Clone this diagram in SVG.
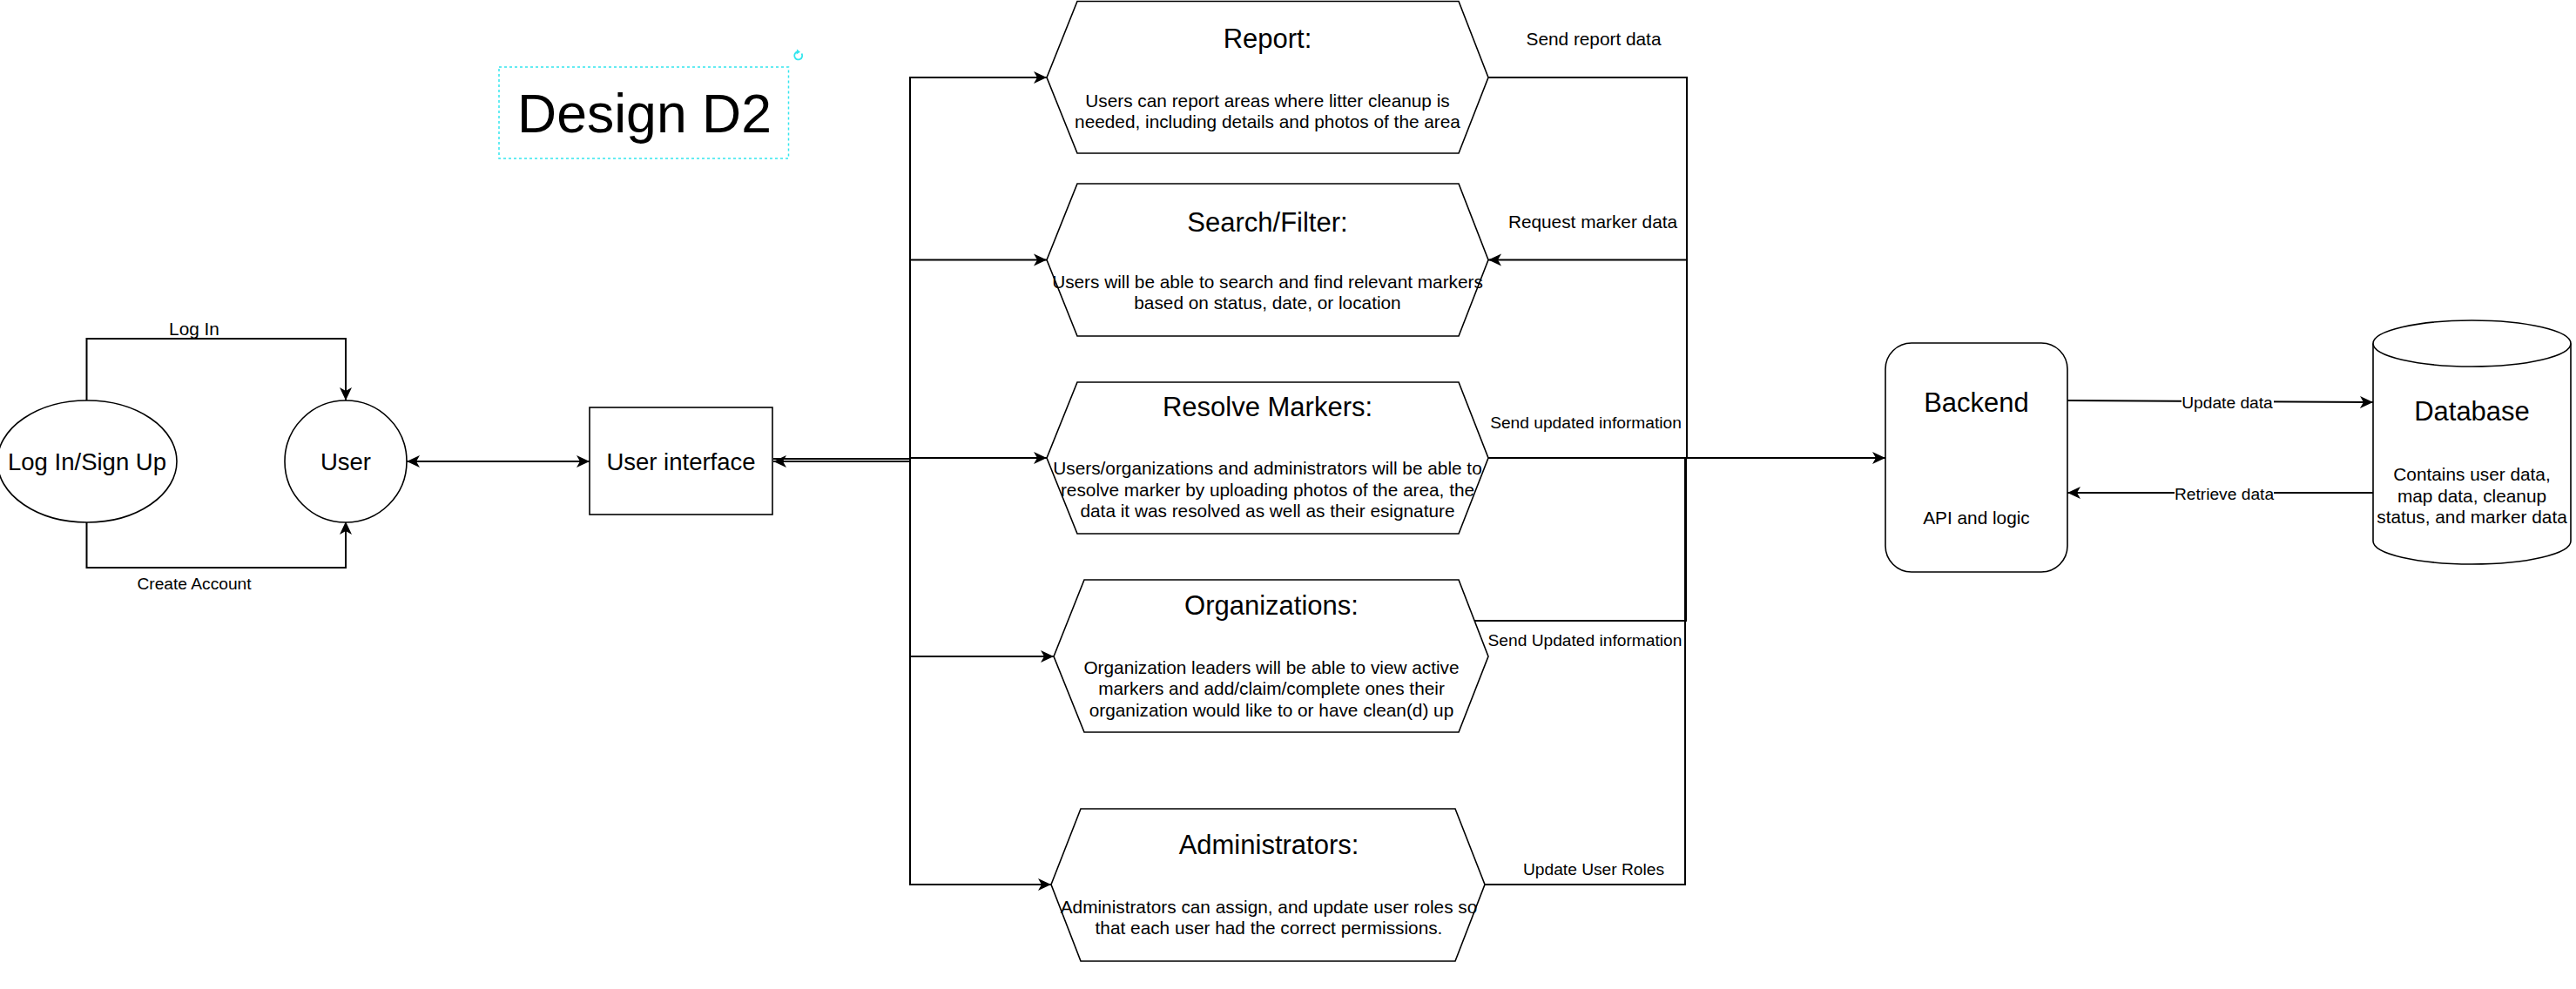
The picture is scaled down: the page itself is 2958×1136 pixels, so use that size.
<svg xmlns="http://www.w3.org/2000/svg" width="2958" height="1136" viewBox="0 0 2958 1136">
<defs>
<marker id="arr" markerUnits="userSpaceOnUse" markerWidth="16" markerHeight="16" viewBox="0 0 16 14" refX="15" refY="7" orient="auto-start-reverse">
<path d="M0,0 L15,7 L0,14 L4,7 Z" fill="#000"/>
</marker>
<style>
text{font-family:"Liberation Sans",Arial,Helvetica,sans-serif;fill:#000;text-anchor:middle}
.shape{fill:#fff;stroke:#000;stroke-width:1.6}
.edge{fill:none;stroke:#000;stroke-width:2}
.t27{font-size:27.5px}
.t31{font-size:31px}
.t21{font-size:20.8px}
.t19{font-size:19.2px}
</style>
</defs>
<rect width="2958" height="1136" fill="#fff"/>

<g id="title">
<rect x="573" y="77" width="332.5" height="105" fill="none" stroke="#33e6ee" stroke-width="1.5" stroke-dasharray="3 3"/>
<text x="740" y="152" style="font-size:62.5px">Design D2</text>
<path d="M920.5,61.5 A4.5,4.5 0 1 1 916,59.5" fill="none" stroke="#33e6ee" stroke-width="1.8"/>
<path d="M915,56.5 L919,59.8 L914.5,62.5 Z" fill="#33e6ee"/>
</g>

<g id="connectors">
<path class="edge" d="M99.5,460 L99.5,389 L397,389 L397,460" marker-end="url(#arr)"/>
<path class="edge" d="M99.5,599 L99.5,652 L397,652 L397,599" marker-end="url(#arr)"/>
<path class="edge" d="M467,530 L677,530" marker-start="url(#arr)" marker-end="url(#arr)"/>
<path class="edge" d="M1045,527 L888,527" stroke-width="1.6"/>
<path class="edge" d="M1045,530 L888,530" marker-end="url(#arr)"/>
<path class="edge" d="M1045,530 L1045,89 L1202,89" marker-end="url(#arr)"/>
<path class="edge" d="M1045,530 L1045,298.5 L1202,298.5" marker-end="url(#arr)"/>
<path class="edge" d="M1045,526 L1202,526" stroke-width="1.6" marker-end="url(#arr)"/>
<path class="edge" d="M1045,530 L1045,754 L1210,754" marker-end="url(#arr)"/>
<path class="edge" d="M1045,754 L1045,1016 L1207,1016" marker-end="url(#arr)"/>
<path class="edge" d="M1709,89 L1937,89 L1937,526 L2165,526" marker-end="url(#arr)"/>
<path class="edge" d="M1709,526 L2165,526"/>
<path class="edge" d="M1693,713 L1936,713 L1936,526"/>
<path class="edge" d="M1705,1016 L1935,1016 L1935,526"/>
<path class="edge" d="M1937,526 L1937,298.5 L1709,298.5" marker-end="url(#arr)"/>
<path class="edge" d="M2374,460 L2725,462" marker-end="url(#arr)"/>
<path class="edge" d="M2725,566 L2374,566" marker-end="url(#arr)"/>
<rect x="2505" y="448" width="106" height="26" fill="#fff"/>
<rect x="2497" y="552" width="114" height="26" fill="#fff"/>
<text class="t21" x="223" y="385">Log In</text>
<text class="t19" x="223" y="677">Create Account</text>
<text class="t19" x="2557.5" y="469">Update data</text>
<text class="t19" x="2554" y="574">Retrieve data</text>
<text class="t21" x="1830" y="52">Send report data</text>
<text class="t21" x="1829" y="262">Request marker data</text>
<text class="t19" x="1821" y="492">Send updated information</text>
<text class="t19" x="1820" y="742">Send Updated information</text>
<text class="t19" x="1830" y="1005">Update User Roles</text>
</g>

<g id="login">
<ellipse class="shape" cx="100" cy="530" rx="103" ry="70"/>
<text class="t27" x="100" y="540">Log In/Sign Up</text>
</g>

<g id="user">
<ellipse class="shape" cx="397" cy="530" rx="70" ry="70"/>
<text class="t27" x="397" y="540">User</text>
</g>

<g id="ui">
<rect class="shape" x="677" y="468" width="210" height="123"/>
<text class="t27" x="782" y="540">User interface</text>
</g>

<g id="report">
<polygon class="shape" points="1202,89 1237,1.5 1675,1.5 1709,89 1675,176 1237,176"/>
<text class="t31" x="1455.5" y="55">Report:</text>
<text class="t21" x="1455.5" y="122.5">Users can report areas where litter cleanup is</text>
<text class="t21" x="1455.5" y="147">needed, including details and photos of the area</text>
</g>

<g id="search">
<polygon class="shape" points="1202,298.5 1237,211 1675,211 1709,298.5 1675,386 1237,386"/>
<text class="t31" x="1455.5" y="266">Search/Filter:</text>
<text class="t21" x="1455.5" y="331">Users will be able to search and find relevant markers</text>
<text class="t21" x="1455.5" y="355">based on status, date, or location</text>
</g>

<g id="resolve">
<polygon class="shape" points="1202,526 1237,439 1675,439 1709,526 1675,613 1237,613"/>
<text class="t31" x="1455.5" y="478">Resolve Markers:</text>
<text class="t21" x="1455.5" y="545">Users/organizations and administrators will be able to</text>
<text class="t21" x="1455.5" y="570">resolve marker by uploading photos of the area, the</text>
<text class="t21" x="1455.5" y="594">data it was resolved as well as their esignature</text>
</g>

<g id="organizations">
<polygon class="shape" points="1210,754 1245,666 1675,666 1709,754 1675,841 1245,841"/>
<text class="t31" x="1460" y="706">Organizations:</text>
<text class="t21" x="1460" y="774">Organization leaders will be able to view active</text>
<text class="t21" x="1460" y="798">markers and add/claim/complete ones their</text>
<text class="t21" x="1460" y="823">organization would like to or have clean(d) up</text>
</g>

<g id="administrators">
<polygon class="shape" points="1207,1016 1241,929 1671,929 1705,1016 1671,1104 1241,1104"/>
<text class="t31" x="1457" y="981">Administrators:</text>
<text class="t21" x="1457" y="1049">Administrators can assign, and update user roles so</text>
<text class="t21" x="1457" y="1073">that each user had the correct permissions.</text>
</g>

<g id="backend">
<rect class="shape" x="2165" y="394" width="209" height="263" rx="30" ry="30"/>
<text class="t31" x="2269.5" y="473">Backend</text>
<text class="t21" x="2269.5" y="602">API and logic</text>
</g>

<g id="database">
<path class="shape" d="M2725,394.5 L2725,621.5 A113.5,26.5 0 0 0 2952,621.5 L2952,394.5 A113.5,26.5 0 0 0 2725,394.5 Z"/>
<path d="M2725,394.5 A113.5,26.5 0 0 0 2952,394.5" fill="none" stroke="#000" stroke-width="1.6"/>
<text class="t31" x="2838.5" y="483">Database</text>
<text class="t21" x="2838.5" y="552">Contains user data,</text>
<text class="t21" x="2838.5" y="577">map data, cleanup</text>
<text class="t21" x="2838.5" y="601">status, and marker data</text>
</g>
</svg>
